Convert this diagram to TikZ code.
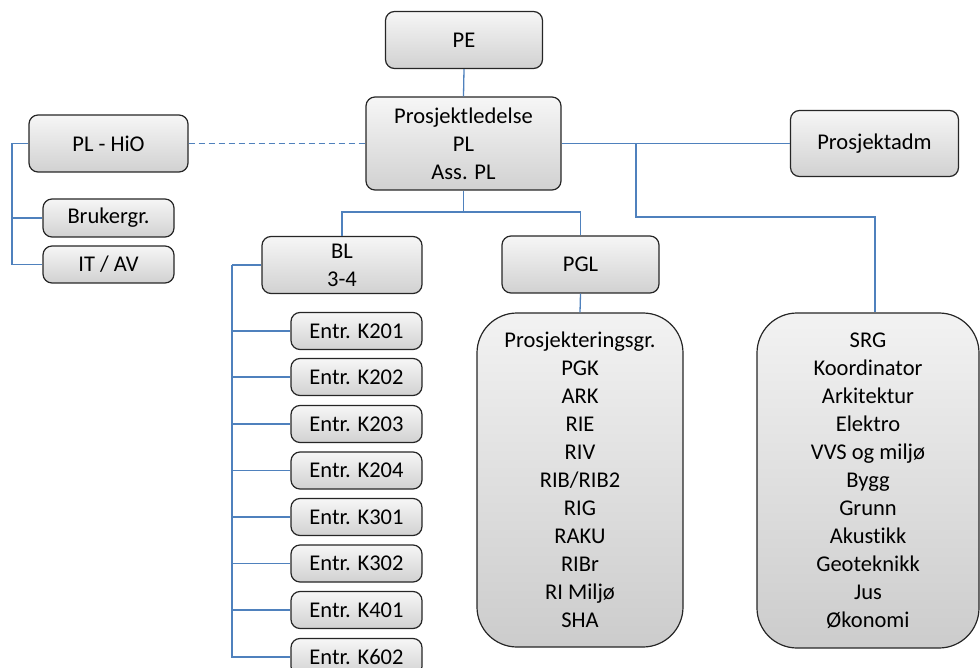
\documentclass[tikz,border=0pt]{standalone}
\usepackage{fontspec}
\setmainfont[Ligatures=NoCommon]{Carlito}
\definecolor{linkblue}{RGB}{79,129,189}
\begin{document}
\begin{tikzpicture}[x=1pt,y=-1pt,
  box/.style={draw=black!85, line width=1.2pt, rounded corners=9pt,
    top color=gray!7, bottom color=gray!36, align=center, inner sep=0pt,
    font=\fontsize{22.5}{28}\selectfont},
  bigbox/.style={box, rounded corners=40pt, top color=gray!10, bottom color=gray!40},
  link/.style={draw=linkblue, line width=1.3pt},
  smallbox/.style={box, minimum width=131pt, minimum height=37pt}]
\useasboundingbox (0,0) rectangle (980,668);

% top level
\node[box, minimum width=157pt, minimum height=57pt] (pe) at (464,40) {PE};
\node[box, minimum width=195pt, minimum height=93pt] (pl) at (463.5,143.5)
  {Prosjektledelse\\PL\\Ass. PL};
\node[box, minimum width=168pt, minimum height=66pt] (padm) at (874.5,143.5) {Prosjektadm};

% left branch
\node[box, minimum width=159pt, minimum height=57pt] (hio) at (108.5,143.5) {PL - HiO};
\node[smallbox, minimum height=38pt] (bruk) at (108.5,218) {Brukergr.};
\node[smallbox] (itav) at (108.5,264.5) {IT / AV};

% second level
\node[box, minimum width=160pt, minimum height=57pt] (bl) at (342,265) {BL\\3-4};
\node[box, minimum width=157pt, minimum height=57pt] (pgl) at (580.5,264.5) {PGL};

% contracts under BL
\foreach \k/\yy in {K201/331, K202/377, K203/424, K204/470.5, K301/517, K302/563.5, K401/610, K602/657}
  \node[smallbox] (e\k) at (356.5,\yy) {Entr. \k};

% groups
\node[bigbox, minimum width=206pt, minimum height=334pt] (prg) at (580,480)
  {Prosjekteringsgr.\\PGK\\ARK\\RIE\\RIV\\RIB/RIB2\\RIG\\RAKU\\RIBr\\RI Miljø\\SHA};
\node[bigbox, minimum width=222pt, minimum height=335pt] (srg) at (868,480.5)
  {SRG\\Koordinator\\Arkitektur\\Elektro\\VVS og miljø\\Bygg\\Grunn\\Akustikk\\Geoteknikk\\Jus\\Økonomi};

% junction points
\coordinate (j1) at (636,143.5);
\coordinate (j2) at (636,217);
\coordinate (hb) at (463.5,212);
\coordinate (lx) at (12,143.5);
\coordinate (bx) at (232,265);

% connectors
\draw[link] (pe.south) -- (pl.north);
\draw[link] (pl.east) -- (padm.west);
\draw[link] (j1) -- (j2) -| ([xshift=7pt]srg.north);
\draw[link, dash pattern=on 6pt off 4pt] (hio.east) -- (pl.west);
\draw[link] (hio.west) -- (lx) |- (bruk.west);
\draw[link] (lx) |- (itav.west);
\draw[link] (pl.south) -- (hb);
\draw[link] (bl.north) |- (hb) -| (pgl.north);
\draw[link] (pgl.south) -- (prg.north);
\draw[link] (bl.west) -- (bx);
\foreach \k in {K201,K202,K203,K204,K301,K302,K401,K602}
  \draw[link] (bx) |- (e\k.west);
\end{tikzpicture}
\end{document}
